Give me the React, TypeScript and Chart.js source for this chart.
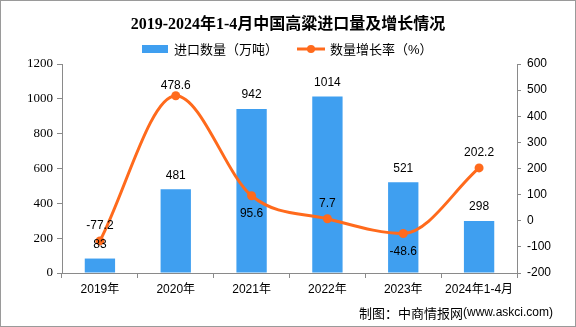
import React, { useEffect, useRef } from 'react';
import { Chart, registerables } from 'chart.js';

Chart.register(...registerables);

const categories = ['2019年', '2020年', '2021年', '2022年', '2023年', '2024年1-4月'];
const importVolume = [83, 481, 942, 1014, 521, 298];
const growthRate = [-77.2, 478.6, 95.6, 7.7, -48.6, 202.2];
const growthLabelBelow = [false, false, true, false, true, false];

const TITLE = '2019-2024年1-4月中国高粱进口量及增长情况';
const LEGEND_BAR = '进口数量（万吨）';
const LEGEND_LINE = '数量增长率（%）';
const SOURCE_CN = '制图：中商情报网';
const SOURCE_URL = '(www.askci.com)';

const BAR_COLOR = '#3F9FF0';
const LINE_COLOR = '#FF6A1C';
const AXIS_COLOR = '#8a8a8a';
const CJK = '"Noto Sans CJK SC"';

const decorPlugin = {
  id: 'decor',
  beforeDraw(chart: any) {
    const { ctx, width, height } = chart;
    ctx.save();
    ctx.fillStyle = '#ffffff';
    ctx.fillRect(0, 0, width, height);
    ctx.restore();
  },
  afterDraw(chart: any) {
    const { ctx, width, height } = chart;
    ctx.save();
    ctx.strokeStyle = '#9a9a9a';
    ctx.lineWidth = 1;
    ctx.strokeRect(0.5, 0.5, width - 1, height - 1);

    ctx.fillStyle = '#000';
    ctx.textAlign = 'center';
    ctx.textBaseline = 'middle';
    ctx.font = `bold 16px "Liberation Serif", ${CJK}`;
    ctx.fillText(TITLE, 288, 25);

    ctx.font = `13px "Liberation Sans", ${CJK}`;
    ctx.textAlign = 'left';
    ctx.fillStyle = BAR_COLOR;
    ctx.fillRect(142, 45, 26, 8);
    ctx.fillStyle = '#000';
    ctx.fillText(LEGEND_BAR, 174, 50);
    ctx.strokeStyle = LINE_COLOR;
    ctx.lineWidth = 3;
    ctx.beginPath();
    ctx.moveTo(297, 49);
    ctx.lineTo(325, 49);
    ctx.stroke();
    ctx.fillStyle = LINE_COLOR;
    ctx.beginPath();
    ctx.arc(311, 49, 4, 0, Math.PI * 2);
    ctx.fill();
    ctx.fillStyle = '#000';
    ctx.fillText(LEGEND_LINE, 330, 50);

    ctx.font = `12px "Liberation Sans", ${CJK}`;
    ctx.textAlign = 'center';
    ctx.textBaseline = 'middle';
    ctx.fillStyle = '#000';
    const barMeta = chart.getDatasetMeta(1);
    barMeta.data.forEach((el: any, i: number) => {
      ctx.fillText(String(importVolume[i]), el.x, el.y - 14);
    });
    const lineMeta = chart.getDatasetMeta(0);
    lineMeta.data.forEach((el: any, i: number) => {
      const below = growthLabelBelow[i];
      const off = below ? 18 : (el.y < 110 ? 10 : 15);
      ctx.fillText(String(growthRate[i]), el.x, below ? el.y + off : el.y - off);
    });

    ctx.textAlign = 'right';
    ctx.font = `12px "Liberation Sans", ${CJK}`;
    const urlW = ctx.measureText(SOURCE_URL).width;
    ctx.fillText(SOURCE_URL, 553, 313);
    ctx.font = `13px ${CJK}`;
    ctx.fillText(SOURCE_CN, 553 - urlW, 313);
    ctx.restore();
  },
};

export default function App() {
  const ref = useRef<HTMLCanvasElement | null>(null);
  useEffect(() => {
    document.body.style.margin = '0';
    const canvas = ref.current!;
    const chart = new Chart(canvas, {
      type: 'bar',
      data: {
        labels: categories,
        datasets: [
          {
            type: 'line',
            label: LEGEND_LINE,
            data: growthRate,
            yAxisID: 'y1',
            borderColor: LINE_COLOR,
            backgroundColor: LINE_COLOR,
            borderWidth: 3,
            pointRadius: 4.5,
            pointBackgroundColor: LINE_COLOR,
            pointBorderWidth: 0,
            cubicInterpolationMode: 'monotone',
            order: 0,
          } as any,
          {
            type: 'bar',
            label: LEGEND_BAR,
            data: importVolume,
            yAxisID: 'y',
            backgroundColor: BAR_COLOR,
            categoryPercentage: 1,
            barPercentage: 0.4,
            order: 1,
          },
        ],
      },
      options: {
        responsive: false,
        animation: false,
        devicePixelRatio: 1,
        layout: { padding: { top: 64, left: 0, right: 0, bottom: 0 } },
        plugins: {
          legend: { display: false },
          title: { display: false },
          tooltip: { enabled: false },
        },
        scales: {
          x: {
            afterFit: (s: any) => { s.height = 54; },
            grid: { drawOnChartArea: false, drawTicks: true, tickLength: 5, color: AXIS_COLOR, offset: true },
            border: { display: true, color: AXIS_COLOR },
            ticks: { color: '#000', font: { family: `"Liberation Sans", ${CJK}`, size: 12 }, padding: 4, maxRotation: 0, autoSkip: false },
          },
          y: {
            position: 'left',
            min: 0,
            max: 1200,
            afterFit: (s: any) => { s.width = 62; },
            grid: { drawOnChartArea: false, drawTicks: true, tickLength: 5, color: AXIS_COLOR },
            border: { display: true, color: AXIS_COLOR },
            ticks: { stepSize: 200, color: '#000', font: { family: '"Liberation Serif"', size: 13 }, padding: 4, callback: (v: any) => String(v) },
          },
          y1: {
            position: 'right',
            min: -200,
            max: 600,
            afterFit: (s: any) => { s.width = 59; },
            grid: { drawOnChartArea: false, drawTicks: true, tickLength: 4, color: AXIS_COLOR },
            border: { display: true, color: AXIS_COLOR },
            ticks: { stepSize: 100, color: '#000', font: { family: '"Liberation Sans"', size: 12 }, padding: 6, callback: (v: any) => String(v) },
          },
        },
      },
      plugins: [decorPlugin],
    });
    return () => chart.destroy();
  }, []);
  return <canvas ref={ref} width={576} height={327} style={{ display: 'block' }} />;
}
